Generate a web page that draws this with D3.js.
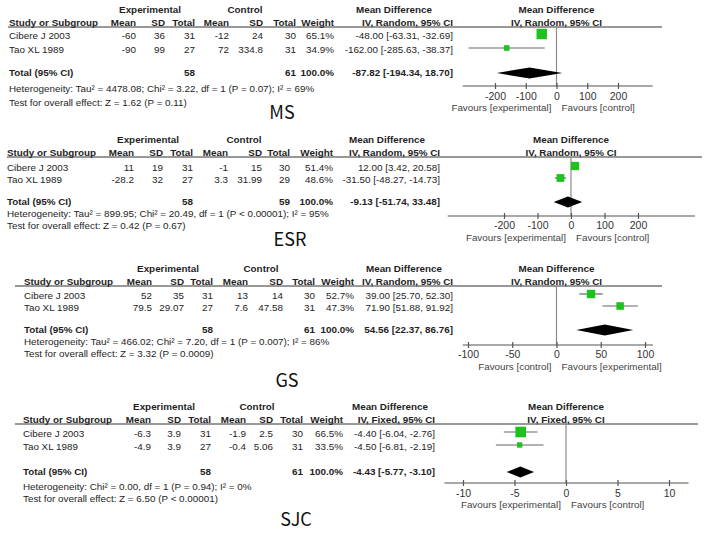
<!DOCTYPE html>
<html><head><meta charset="utf-8">
<script src="https://cdn.jsdelivr.net/npm/d3@7"></script>
<style>
html,body{margin:0;padding:0;background:#fff;}
svg{display:block;}
</style></head>
<body>
<svg id="c" width="708" height="533"></svg>
<script>
// ---------------- DATA ----------------
const outcomes = ["MS", "ESR", "GS", "SJC"];
const studies = ["Cibere J 2003", "Tao XL 1989"];
const methods = ["Random", "Random", "Random", "Fixed"];
const expMean = [[-60, -90], [11, -28.2], [52, 79.5], [-6.3, -4.9]];
const expSD = [[36, 99], [19, 32], [35, 29.07], [3.9, 3.9]];
const expTotal = [[31, 27], [31, 27], [31, 27], [31, 27]];
const ctlMean = [[-12, 72], [-1, 3.3], [13, 7.6], [-1.9, -0.4]];
const ctlSD = [[24, 334.8], [15, 31.99], [14, 47.58], [2.5, 5.06]];
const ctlTotal = [[30, 31], [30, 29], [30, 31], [30, 31]];
const weights = [[65.1, 34.9], [51.4, 48.6], [52.7, 47.3], [66.5, 33.5]];
const md = [[-48.00, -162.00], [12.00, -31.50], [39.00, 71.90], [-4.40, -4.50]];
const ciLow = [[-63.31, -285.63], [3.42, -48.27], [25.70, 51.88], [-6.04, -6.81]];
const ciHigh = [[-32.69, -38.37], [20.58, -14.73], [52.30, 91.92], [-2.76, -2.19]];
const totalExp = [58, 58, 58, 58];
const totalCtl = [61, 59, 61, 61];
const totalMD = [-87.82, -9.13, 54.56, -4.43];
const totalLow = [-194.34, -51.74, 22.37, -5.77];
const totalHigh = [18.70, 33.48, 86.76, -3.10];
const heterogeneity = [
  "Heterogeneity: Tau\u00b2 = 4478.08; Chi\u00b2 = 3.22, df = 1 (P = 0.07); I\u00b2 = 69%",
  "Heterogeneity: Tau\u00b2 = 899.95; Chi\u00b2 = 20.49, df = 1 (P < 0.00001); I\u00b2 = 95%",
  "Heterogeneity: Tau\u00b2 = 466.02; Chi\u00b2 = 7.20, df = 1 (P = 0.007); I\u00b2 = 86%",
  "Heterogeneity: Chi\u00b2 = 0.00, df = 1 (P = 0.94); I\u00b2 = 0%"
];
const overallEffect = [
  "Test for overall effect: Z = 1.62 (P = 0.11)",
  "Test for overall effect: Z = 0.42 (P = 0.67)",
  "Test for overall effect: Z = 3.32 (P = 0.0009)",
  "Test for overall effect: Z = 6.50 (P < 0.00001)"
];
const tickValues = [[-200, -100, 0, 100, 200], [-200, -100, 0, 100, 200], [-100, -50, 0, 50, 100], [-10, -5, 0, 5, 10]];
const axisExtent = [[-305, 313], [-368, 370], [-106, 109], [-11.8, 11.9]];
const favoursLeft = ["Favours [experimental]", "Favours [experimental]", "Favours [control]", "Favours [experimental]"];
const favoursRight = ["Favours [control]", "Favours [control]", "Favours [experimental]", "Favours [control]"];

// ---------------- LAYOUT ----------------
const layout = [
  {h1:10, h2:23, rule:27, rows:[36,50], total:73, het:89, test:103, axis:86, tickLab:96, fav:108, label:[282,113],
   study:9, cols:[136,165,195,229,263,296,334], expC:150, ctlC:245, mdC:394, ciR:453, ruleX:[8,662], tickPx:[495,618], clipR:null},
  {h1:140, h2:153, rule:157, rows:[168,180], total:202, het:214, test:226, axis:216, tickLab:225, fav:238, label:[290,240],
   study:7, cols:[134,163,193,228,262,290,333], expC:148, ctlC:244, mdC:387, ciR:440, ruleX:[7,702], tickPx:[504,638], clipR:null},
  {h1:269, h2:282, rule:286, rows:[296,308], total:330, het:342, test:354, axis:345, tickLab:354, fav:367, label:[287,381],
   study:24, cols:[152,184,213,248,283,315,354], expC:168, ctlC:261, mdC:404, ciR:453, ruleX:[15,662], tickPx:[468,645], clipR:662},
  {h1:407, h2:420, rule:424, rows:[434,447], total:472, het:487, test:499, axis:483, tickLab:493, fav:505, label:[296,520],
   study:23, cols:[151,181,211,246,273,303,343], expC:164, ctlC:257, mdC:390, ciR:435, ruleX:[15,698], tickPx:[463,669], clipR:null}
];

const FONT = "'Liberation Sans', Arial, sans-serif";
const FS = 9.85;
const TXT = "#1e1e1e";
const svg = d3.select("#c");
const f2 = d3.format(".2f");
const sizeScale = d3.scaleLinear().domain([0, 100]).range([0, 16]);

function txt(g, x, y, s, opts = {}) {
  return g.append("text")
    .attr("x", x).attr("y", y).attr("dy", "0.35em")
    .attr("font-family", opts.family || FONT)
    .attr("font-size", opts.size || FS)
    .attr("font-weight", opts.bold ? "bold" : "normal")
    .attr("text-anchor", opts.anchor || "start")
    .attr("fill", opts.fill || TXT)
    .text(s);
}
const num = v => String(v).replace("\u2212", "-");

outcomes.forEach((name, p) => {
  const L = layout[p];
  const g = svg.append("g");
  const x = d3.scaleLinear().domain([tickValues[p][0], tickValues[p][4]]).range(L.tickPx);
  const ciStr = (m, lo, hi) => `${f2(m)} [${f2(lo)}, ${f2(hi)}]`.replace(/\u2212/g, "-");

  // header row 1
  txt(g, L.expC, L.h1, "Experimental", {bold:true, anchor:"middle"});
  txt(g, L.ctlC, L.h1, "Control", {bold:true, anchor:"middle"});
  txt(g, L.mdC, L.h1, "Mean Difference", {bold:true, anchor:"middle"});
  txt(g, x(0), L.h1, "Mean Difference", {bold:true, anchor:"middle"});
  // header row 2
  txt(g, L.study, L.h2, "Study or Subgroup", {bold:true});
  ["Mean","SD","Total","Mean","SD","Total","Weight"].forEach((h, i) => txt(g, L.cols[i], L.h2, h, {bold:true, anchor:"end"}));
  txt(g, L.ciR, L.h2, `IV, ${methods[p]}, 95% CI`, {bold:true, anchor:"end"});
  txt(g, x(0), L.h2, `IV, ${methods[p]}, 95% CI`, {bold:true, anchor:"middle"});

  g.append("line").attr("x1", L.ruleX[0]).attr("x2", L.ruleX[1]).attr("y1", L.rule).attr("y2", L.rule)
    .attr("stroke", "#333").attr("stroke-width", 1);

  // zero line
  g.append("line").attr("x1", x(0)).attr("x2", x(0)).attr("y1", L.rule).attr("y2", L.axis)
    .attr("stroke", "#8a8a8a").attr("stroke-width", 1.2);

  // study rows
  studies.forEach((s, i) => {
    const y = L.rows[i];
    txt(g, L.study, y, s);
    const vals = [expMean[p][i], expSD[p][i], expTotal[p][i], ctlMean[p][i], ctlSD[p][i], ctlTotal[p][i], weights[p][i].toFixed(1) + "%"];
    vals.forEach((v, k) => txt(g, L.cols[k], y, num(v), {anchor:"end"}));
    txt(g, L.ciR, y, ciStr(md[p][i], ciLow[p][i], ciHigh[p][i]), {anchor:"end"});
    const my = y - 2;
    g.append("line").attr("x1", x(ciLow[p][i])).attr("x2", x(ciHigh[p][i])).attr("y1", my).attr("y2", my)
      .attr("stroke", "#666").attr("stroke-width", 1.2);
    const sz = sizeScale(weights[p][i]);
    g.append("rect").attr("x", x(md[p][i]) - sz / 2).attr("y", my - sz / 2).attr("width", sz).attr("height", sz)
      .attr("fill", "#1ec21e");
  });

  // total row
  txt(g, L.study, L.total, "Total (95% CI)", {bold:true});
  txt(g, L.cols[2], L.total, totalExp[p], {bold:true, anchor:"end"});
  txt(g, L.cols[5], L.total, totalCtl[p], {bold:true, anchor:"end"});
  txt(g, L.cols[6], L.total, "100.0%", {bold:true, anchor:"end"});
  txt(g, L.ciR, L.total, ciStr(totalMD[p], totalLow[p], totalHigh[p]), {bold:true, anchor:"end"});
  const dy = L.total, hh = 5.5;
  g.append("path").attr("d", d3.line()([[x(totalLow[p]), dy], [x(totalMD[p]), dy - hh], [x(totalHigh[p]), dy], [x(totalMD[p]), dy + hh]]) + "Z")
    .attr("fill", "#000");

  txt(g, L.study, L.het, heterogeneity[p]);
  txt(g, L.study, L.test, overallEffect[p]);

  // axis
  g.append("line").attr("x1", x(axisExtent[p][0])).attr("x2", x(axisExtent[p][1])).attr("y1", L.axis).attr("y2", L.axis)
    .attr("stroke", "#555").attr("stroke-width", 1.2);
  const ax = g.append("g").attr("transform", `translate(0,${L.axis})`)
    .call(d3.axisBottom(x).tickValues(tickValues[p]).tickSize(3).tickPadding(0).tickFormat(d => String(d)));
  ax.select(".domain").remove();
  ax.selectAll(".tick line").attr("y1", -3).attr("stroke", "#555").attr("stroke-width", 1.2);
  ax.selectAll(".tick text").attr("y", L.tickLab - L.axis).attr("dy", "0.35em")
    .attr("font-family", FONT).attr("font-size", 10.5).attr("fill", "#333");

  let favG = g;
  if (L.clipR) {
    svg.append("clipPath").attr("id", "clip" + p).append("rect")
      .attr("x", 0).attr("y", 0).attr("width", L.clipR).attr("height", 533);
    favG = g.append("g").attr("clip-path", `url(#clip${p})`);
  }
  txt(favG, x(0) - 5, L.fav, favoursLeft[p], {anchor:"end", fill:"#444"});
  txt(favG, x(0) + 5, L.fav, favoursRight[p], {anchor:"start", fill:"#444"});

  // big outcome label
  txt(g, L.label[0], L.label[1], name, {anchor:"middle", size:18, family:"'Noto Sans CJK SC', 'Noto Sans', sans-serif", fill:"#111"});
});
</script>
</body></html>
